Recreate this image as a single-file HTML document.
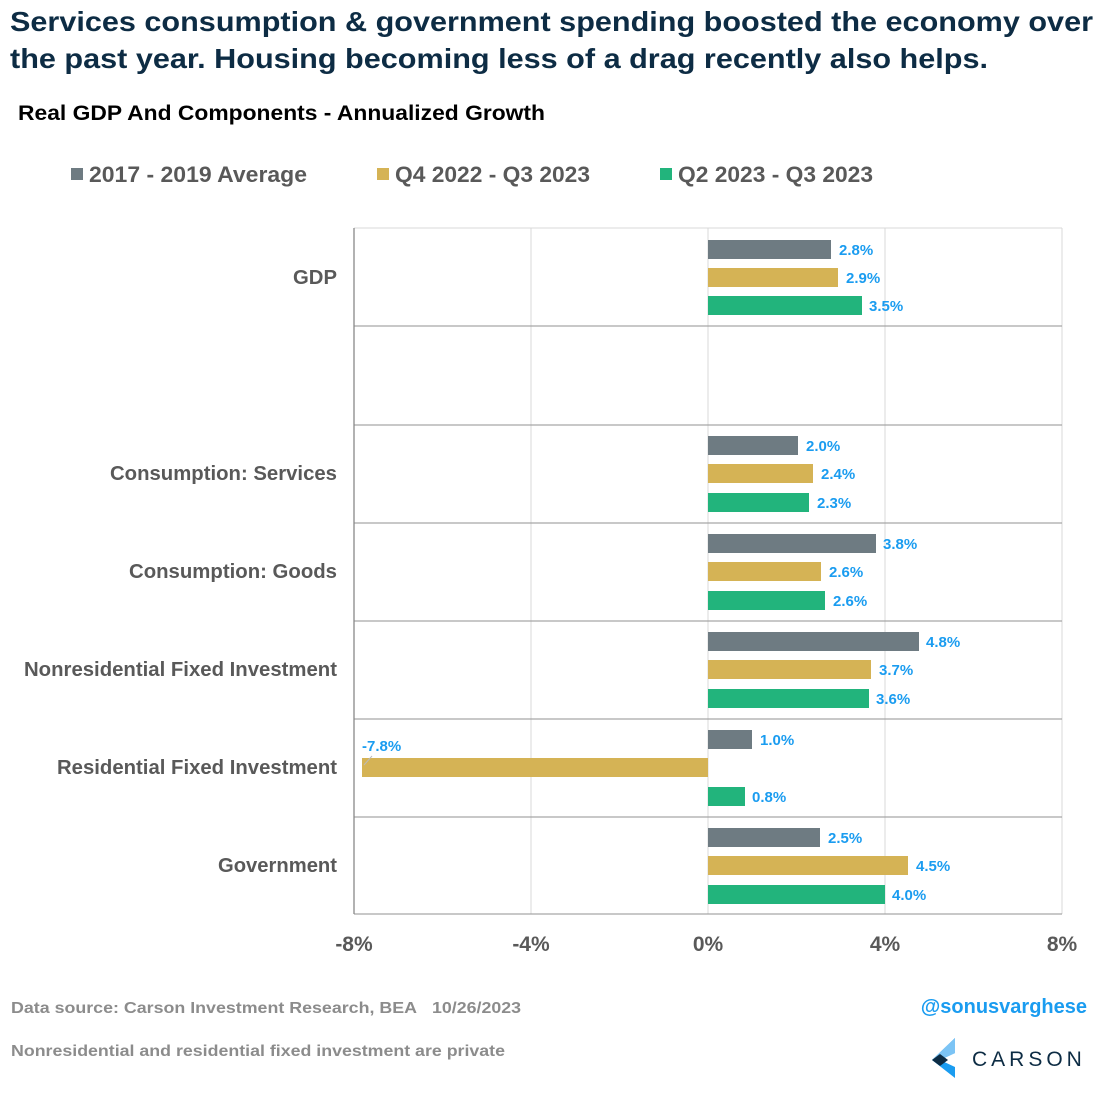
<!DOCTYPE html>
<html><head><meta charset="utf-8"><style>
body{margin:0;background:#fff;width:1106px;height:1100px;overflow:hidden;font-family:"Liberation Sans",Arial,sans-serif}
</style></head><body>
<svg width="1106" height="1100" xmlns="http://www.w3.org/2000/svg" font-family="Liberation Sans, Arial, sans-serif">
<text x="10" y="31" font-size="28" font-weight="bold" fill="#0d2c44" textLength="1083" lengthAdjust="spacingAndGlyphs">Services consumption &amp; government spending boosted the economy over</text>
<text x="10" y="68" font-size="28" font-weight="bold" fill="#0d2c44" textLength="978" lengthAdjust="spacingAndGlyphs">the past year. Housing becoming less of a drag recently also helps.</text>
<text x="18" y="120" font-size="21" font-weight="bold" fill="#000" textLength="527" lengthAdjust="spacingAndGlyphs">Real GDP And Components - Annualized Growth</text>
<rect x="71" y="168" width="12" height="12" fill="#6e7b82"/>
<text x="89" y="182" font-size="22" font-weight="bold" fill="#595959" textLength="218" lengthAdjust="spacingAndGlyphs">2017 - 2019 Average</text>
<rect x="377" y="168" width="12" height="12" fill="#d5b355"/>
<text x="395" y="182" font-size="22" font-weight="bold" fill="#595959" textLength="195" lengthAdjust="spacingAndGlyphs">Q4 2022 - Q3 2023</text>
<rect x="660" y="168" width="12" height="12" fill="#22b47c"/>
<text x="678" y="182" font-size="22" font-weight="bold" fill="#595959" textLength="195" lengthAdjust="spacingAndGlyphs">Q2 2023 - Q3 2023</text>
<g stroke="#d9d9d9" stroke-width="1">
<line x1="531" y1="228" x2="531" y2="914"/><line x1="708" y1="228" x2="708" y2="914"/><line x1="885" y1="228" x2="885" y2="914"/><line x1="1062" y1="228" x2="1062" y2="914"/>
<line x1="354" y1="228" x2="1062" y2="228"/>
</g>
<g stroke="#a6a6a6" stroke-width="1.3">
<line x1="354" y1="326" x2="1062" y2="326"/><line x1="354" y1="425" x2="1062" y2="425"/><line x1="354" y1="523" x2="1062" y2="523"/><line x1="354" y1="621" x2="1062" y2="621"/><line x1="354" y1="719" x2="1062" y2="719"/><line x1="354" y1="817" x2="1062" y2="817"/><line x1="354" y1="914" x2="1062" y2="914"/>
<line x1="354" y1="228" x2="354" y2="914" stroke="#888"/>
</g>
<g font-size="20" font-weight="bold" fill="#595959">
<text x="293" y="284" textLength="44" lengthAdjust="spacingAndGlyphs">GDP</text>
<text x="110" y="480" textLength="227" lengthAdjust="spacingAndGlyphs">Consumption: Services</text>
<text x="129" y="578" textLength="208" lengthAdjust="spacingAndGlyphs">Consumption: Goods</text>
<text x="24" y="676" textLength="313" lengthAdjust="spacingAndGlyphs">Nonresidential Fixed Investment</text>
<text x="57" y="774" textLength="280" lengthAdjust="spacingAndGlyphs">Residential Fixed Investment</text>
<text x="218" y="872" textLength="119" lengthAdjust="spacingAndGlyphs">Government</text>
</g>
<g font-size="15" font-weight="bold" fill="#1a9cf0">
<rect x="708" y="240" width="123" height="19" fill="#6e7b82"/><text x="839" y="255">2.8%</text>
<rect x="708" y="268" width="130" height="19" fill="#d5b355"/><text x="846" y="283">2.9%</text>
<rect x="708" y="296" width="154" height="19" fill="#22b47c"/><text x="869" y="311">3.5%</text>

<rect x="708" y="436" width="90" height="19" fill="#6e7b82"/><text x="806" y="451">2.0%</text>
<rect x="708" y="464" width="105" height="19" fill="#d5b355"/><text x="821" y="479">2.4%</text>
<rect x="708" y="493" width="101" height="19" fill="#22b47c"/><text x="817" y="508">2.3%</text>

<rect x="708" y="534" width="168" height="19" fill="#6e7b82"/><text x="883" y="549">3.8%</text>
<rect x="708" y="562" width="113" height="19" fill="#d5b355"/><text x="829" y="577">2.6%</text>
<rect x="708" y="591" width="117" height="19" fill="#22b47c"/><text x="833" y="606">2.6%</text>

<rect x="708" y="632" width="211" height="19" fill="#6e7b82"/><text x="926" y="647">4.8%</text>
<rect x="708" y="660" width="163" height="19" fill="#d5b355"/><text x="879" y="675">3.7%</text>
<rect x="708" y="689" width="161" height="19" fill="#22b47c"/><text x="876" y="704">3.6%</text>

<rect x="708" y="730" width="44" height="19" fill="#6e7b82"/><text x="760" y="745">1.0%</text>
<rect x="362" y="758" width="346" height="19" fill="#d5b355"/><text x="362" y="751">-7.8%</text>
<line x1="364" y1="765" x2="372" y2="756" stroke="#bbb"/>
<rect x="708" y="787" width="37" height="19" fill="#22b47c"/><text x="752" y="802">0.8%</text>

<rect x="708" y="828" width="112" height="19" fill="#6e7b82"/><text x="828" y="843">2.5%</text>
<rect x="708" y="856" width="200" height="19" fill="#d5b355"/><text x="916" y="871">4.5%</text>
<rect x="708" y="885" width="177" height="19" fill="#22b47c"/><text x="892" y="900">4.0%</text>
</g>
<g font-size="21" font-weight="bold" fill="#595959" text-anchor="middle">
<text x="354" y="951">-8%</text><text x="531" y="951">-4%</text><text x="708" y="951">0%</text><text x="885" y="951">4%</text><text x="1062" y="951">8%</text>
</g>
<text x="11" y="1013" font-size="16" font-weight="bold" fill="#8c8c8c" textLength="406" lengthAdjust="spacingAndGlyphs">Data source: Carson Investment Research, BEA</text>
<text x="432" y="1013" font-size="16" font-weight="bold" fill="#8c8c8c" textLength="89" lengthAdjust="spacingAndGlyphs">10/26/2023</text>
<text x="11" y="1056" font-size="16" font-weight="bold" fill="#8c8c8c" textLength="494" lengthAdjust="spacingAndGlyphs">Nonresidential and residential fixed investment are private</text>
<text x="1087" y="1013" font-size="20" font-weight="bold" fill="#1a9cf0" text-anchor="end">@sonusvarghese</text>
<polygon points="955,1038 955,1053 940,1060 955,1067 955,1078 932,1060" fill="#1a9cf0"/>
<polygon points="955,1038 955,1053 940,1060 932,1060" fill="#7cc4f5"/>
<polygon points="932,1060 940,1054 948,1060 940,1066" fill="#0d2c44"/>
<text x="972" y="1066" font-size="21" fill="#0d2c44" letter-spacing="4">CARSON</text>
</svg>
</body></html>
